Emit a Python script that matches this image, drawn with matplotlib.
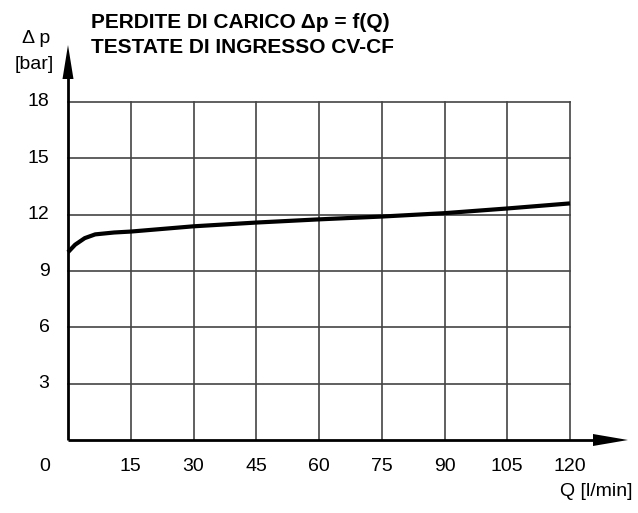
import matplotlib
matplotlib.use("Agg")
import matplotlib.pyplot as plt
from matplotlib.patches import Polygon

plt.rcParams['font.family'] = ['Liberation Sans', 'DejaVu Sans']

# Data
flow_q = [0, 1.7, 4, 6.5, 11, 15, 30, 45, 60, 75, 90, 105, 120]
delta_p = [10.0, 10.4, 10.75, 10.95, 11.05, 11.1, 11.38, 11.58, 11.75, 11.9, 12.08, 12.33, 12.6]
x_ticks = [15, 30, 45, 60, 75, 90, 105, 120]
y_ticks = [3, 6, 9, 12, 15, 18]
title_lines = ["PERDITE DI CARICO \u0394p = f(Q)", "TESTATE DI INGRESSO CV-CF"]

W, H = 638, 513
fig = plt.figure(figsize=(W / 100, H / 100), dpi=100)
x0, x1, y0, y1 = 68, 570, 440, 102
ax = fig.add_axes([x0 / W, 1 - y0 / H, (x1 - x0) / W, (y0 - y1) / H])
ax.set_xlim(0, 120)
ax.set_ylim(0, 18)
for s in ax.spines.values():
    s.set_visible(False)
ax.set_xticks([])
ax.set_yticks([])

ppx = 120 / (x1 - x0)   # data units per pixel (x)
ppy = 18 / (y0 - y1)    # data units per pixel (y)

grid_c = '#444444'
for xv in x_ticks:
    ax.plot([xv, xv], [0, 18], color=grid_c, lw=1.2, zorder=1, clip_on=False)
for yv in y_ticks:
    ax.plot([0, 120], [yv, yv], color=grid_c, lw=1.2, zorder=1, clip_on=False)

# axes with arrows
ytip = (y0 - 45) * ppy
xtip = (628 - x0) * ppx
yhead = 34 * ppy
xhead = 35 * ppx
ax.plot([0, 0], [0, ytip - yhead + 0.2], color='black', lw=2, zorder=3, clip_on=False,
        solid_capstyle='butt')
ax.plot([0, xtip - xhead + 1], [0, 0], color='black', lw=2, zorder=3, clip_on=False,
        solid_capstyle='butt')
ax.add_patch(Polygon([[0, ytip], [-5.5 * ppx, ytip - yhead], [5.5 * ppx, ytip - yhead]],
                     closed=True, color='black', clip_on=False, zorder=4, lw=0))
ax.add_patch(Polygon([[xtip, 0], [xtip - xhead, 6 * ppy], [xtip - xhead, -6 * ppy]],
                     closed=True, color='black', clip_on=False, zorder=4, lw=0))

ax.plot(flow_q, delta_p, color='black', lw=3.0, zorder=5, clip_on=False,
        solid_capstyle='butt')

fs = 14
for xv in x_ticks:
    ax.text(xv, -(466.7 - y0) * ppy, str(xv), ha='center', va='center', fontsize=fs)
ax.text(-(68 - 45) * ppx, -(466.7 - y0) * ppy, "0", ha='center', va='center', fontsize=fs)
for yv in y_ticks:
    ax.text(-(68 - 49.5) * ppx, yv, str(yv), ha='right', va='center', fontsize=fs)

def ftext(px, py, s, **kw):
    fig.text(px / W, 1 - py / H, s, **kw)

ftext(91, 28, title_lines[0], fontsize=15, fontweight='bold', va='baseline', ha='left')
ftext(91, 53, title_lines[1], fontsize=15, fontweight='bold', va='baseline', ha='left')
ftext(36, 43, "\u0394 p", fontsize=fs, va='baseline', ha='center')
ftext(34, 69, "[bar]", fontsize=fs, va='baseline', ha='center')
ftext(633, 496.5, "Q [l/min]", fontsize=fs, va='baseline', ha='right')

fig.savefig("out.png", dpi=100)
